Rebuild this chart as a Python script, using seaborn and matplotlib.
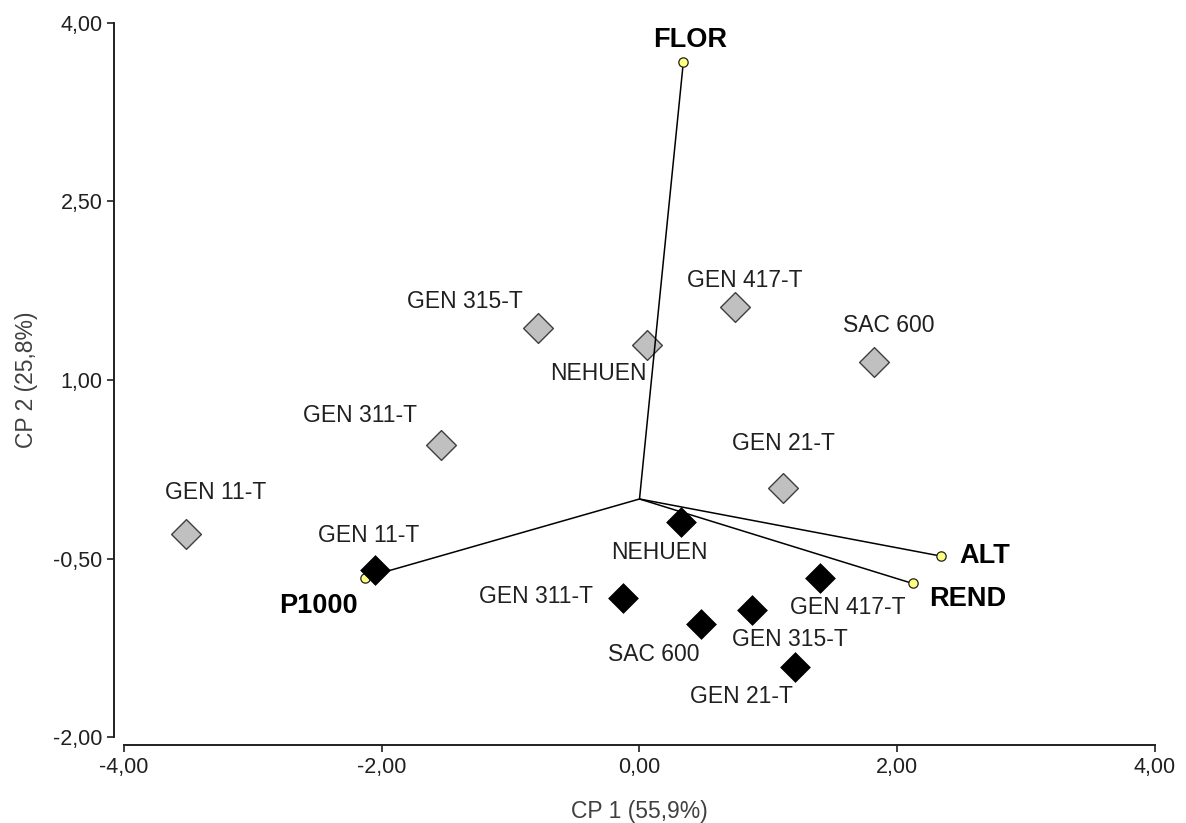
import matplotlib
matplotlib.use("Agg")
import matplotlib.pyplot as plt
import seaborn as sns
import pandas as pd
from matplotlib.ticker import FuncFormatter

# ---- data ----
genotypes = ["GEN 11-T", "GEN 311-T", "GEN 315-T", "NEHUEN", "GEN 417-T", "SAC 600", "GEN 21-T"]
gray_x = [-3.52, -1.54, -0.79, 0.06, 0.74, 1.82, 1.11]
gray_y = [-0.29, 0.45, 1.44, 1.29, 1.61, 1.15, 0.09]
black_x = [-2.05, -0.13, 0.87, 0.32, 1.40, 0.48, 1.21]
black_y = [-0.60, -0.83, -0.93, -0.19, -0.66, -1.05, -1.41]

variables = ["FLOR", "ALT", "REND", "P1000"]
var_x = [0.34, 2.34, 2.12, -2.13]
var_y = [3.67, -0.48, -0.71, -0.66]

x_ticks = [-4, -2, 0, 2, 4]
y_ticks = [-2.0, -0.5, 1.0, 2.5, 4.0]
x_label = "CP 1 (55,9%)"
y_label = "CP 2 (25,8%)"

# label offsets in pixels (style, not data)
gray_off = [(30, 41), (-81, 30), (-73, 26), (-49, -28), (10, 27), (15, 37), (1, 45)]
black_off = [(-7, 35), (-87, 1), (38, -30), (-21, -31), (28, -30), (-48, -31), (-54, -30)]
var_off = [(7, 22), (44, 0), (55, -16), (-47, -28)]

sns.set_style("ticks")
plt.rcParams["font.family"] = ["Liberation Sans", "DejaVu Sans"]

fig = plt.figure(figsize=(11.86, 8.23), dpi=100)
ax = fig.add_axes([124 / 1186, 1 - 737 / 823, (1155 - 124) / 1186, (737 - 23) / 823])

df_gray = pd.DataFrame({"x": gray_x, "y": gray_y, "name": genotypes})
df_black = pd.DataFrame({"x": black_x, "y": black_y, "name": genotypes})
df_var = pd.DataFrame({"x": var_x, "y": var_y, "name": variables})

sns.scatterplot(data=df_gray, x="x", y="y", marker="D", s=230, color="#c0c0c0",
                edgecolor="#404040", linewidth=1.0, ax=ax, zorder=2)
for vx, vy in zip(var_x, var_y):
    ax.plot([0, vx], [0, vy], color="black", lw=1.1, zorder=3)
sns.scatterplot(data=df_var, x="x", y="y", marker="o", s=45, color="#ffff80",
                edgecolor="#202020", linewidth=0.9, ax=ax, zorder=4)
sns.scatterplot(data=df_black, x="x", y="y", marker="D", s=230, color="black",
                edgecolor="black", linewidth=0.5, ax=ax, zorder=5)

for (n, x, y), off in zip(zip(genotypes, gray_x, gray_y), gray_off):
    ax.annotate(n, (x, y), xytext=off, textcoords="offset pixels", ha="center",
                va="center", fontsize=16.5, color="#202020", zorder=6)
for (n, x, y), off in zip(zip(genotypes, black_x, black_y), black_off):
    ax.annotate(n, (x, y), xytext=off, textcoords="offset pixels", ha="center",
                va="center", fontsize=16.5, color="#202020", zorder=6)
for (n, x, y), off in zip(zip(variables, var_x, var_y), var_off):
    ax.annotate(n, (x, y), xytext=off, textcoords="offset pixels", ha="center",
                va="center", fontsize=19.5, fontweight="bold", color="black", zorder=6)

ax.set_xlim(-4, 4)
ax.set_ylim(-2, 4)
ax.set_xticks(x_ticks)
ax.set_yticks(y_ticks)
fmt = FuncFormatter(lambda v, p: f"{v:.2f}".replace(".", ","))
ax.xaxis.set_major_formatter(fmt)
ax.yaxis.set_major_formatter(fmt)
ax.tick_params(axis="both", labelsize=15.5, colors="#202020", length=5, width=1.2, direction="out")
ax.set_xlabel(x_label, fontsize=16.5, color="#404040", labelpad=16)
ax.set_ylabel(y_label, fontsize=16.5, color="#404040", labelpad=11)

sns.despine(ax=ax, offset={"left": 7, "bottom": 6})
for s in ["left", "bottom"]:
    ax.spines[s].set_linewidth(1.4)
    ax.spines[s].set_color("#202020")

fig.savefig("out.png", dpi=100)
